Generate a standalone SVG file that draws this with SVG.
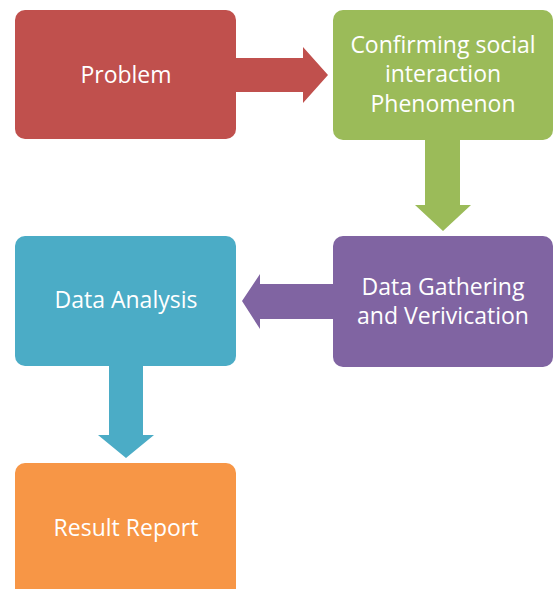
<svg xmlns="http://www.w3.org/2000/svg" width="554" height="589" viewBox="0 0 554 589">
  <style>
    .label { font-family: "Open Sans", "Liberation Sans", sans-serif; font-size: 23px; fill: #ffffff; text-anchor: middle; }
  </style>
  <rect width="554" height="589" fill="#ffffff"/>

  <!-- connectors: block arrows between the steps -->
  <g id="connectors">
    <polygon fill="#C0504D" points="236,58 303,58 303,47 328,75 303,103 303,92 236,92"/>
    <polygon fill="#9BBB59" points="425,140 460,140 460,205 471,205 443,231 415,205 425,205"/>
    <polygon fill="#8064A2" points="333,284 260,284 260,274 242,301 260,329 260,319 333,319"/>
    <polygon fill="#4BACC6" points="109,366 143,366 143,435 154,435 126,458 98,435 109,435"/>
  </g>

  <g id="problem">
    <rect x="15" y="10" width="221" height="129" rx="10" fill="#C0504D"/>
    <text class="label" x="126" y="83">Problem</text>
  </g>

  <g id="confirming">
    <rect x="333" y="10" width="220" height="130" rx="10" fill="#9BBB59"/>
    <text class="label" x="443" y="53">Confirming social</text>
    <text class="label" x="443" y="82">interaction</text>
    <text class="label" x="443" y="112">Phenomenon</text>
  </g>

  <g id="gathering">
    <rect x="333" y="236" width="220" height="131" rx="10" fill="#8064A2"/>
    <text class="label" x="443" y="295">Data Gathering</text>
    <text class="label" x="443" y="324">and Verivication</text>
  </g>

  <g id="analysis">
    <rect x="15" y="236" width="221" height="130" rx="10" fill="#4BACC6"/>
    <text class="label" x="126" y="308">Data Analysis</text>
  </g>

  <g id="report">
    <rect x="15" y="463" width="221" height="136" rx="10" fill="#F79646"/>
    <text class="label" x="126" y="536">Result Report</text>
  </g>
</svg>
